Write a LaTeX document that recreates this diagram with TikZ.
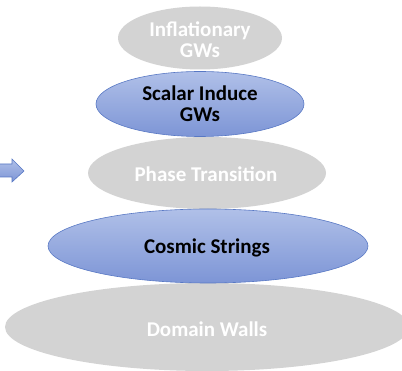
\documentclass[tikz,border=0pt]{standalone}
\usepackage{fontspec}
\setmainfont{Carlito}
\usetikzlibrary{shapes.geometric}
\definecolor{layergray}{HTML}{D3D3D3}
\definecolor{bluetop}{HTML}{B0C0E8}
\definecolor{bluebot}{HTML}{7D95D6}
\definecolor{blueedge}{HTML}{5878C4}
\tikzset{
  layer/.style={ellipse, inner sep=0pt},
  grayer/.style={layer, fill=layergray},
  bluer/.style={layer, top color=bluetop, bottom color=bluebot, draw=blueedge, line width=0.6pt},
  lbl/.style={font=\fontsize{21}{21}\selectfont\bfseries, align=center, inner sep=0pt},
}
\begin{document}
\begin{tikzpicture}[x=1pt,y=-1pt]
\useasboundingbox (0,0) rectangle (402,371);
% stacked layers, widest at the bottom
\node[grayer, minimum width=404, minimum height=88] (dw) at (207,327) {};
\node[grayer, minimum width=238, minimum height=72] (pt) at (207,173) {};
\node[grayer, minimum width=164, minimum height=63] (inf) at (200,38) {};
\node[bluer, minimum width=320, minimum height=74] (cs) at (208,246) {};
\node[bluer, minimum width=208, minimum height=65] (sig) at (200,104) {};
% labels
\node[lbl, text=white] at (200,40) {Inflationary\\GWs};
\node[lbl, text=black] at (200,104) {Scalar Induce\\GWs};
\node[lbl, text=white] at (206,174) {Phase Transition};
\node[lbl, text=black] at (207,248) {Cosmic Strings};
\node[lbl, text=white] at (207,329) {Domain Walls};
% pointer arrow at the left edge
\draw[blueedge, line width=0.6pt, top color=bluetop, bottom color=bluebot]
  (-2,164) -- (12,164) -- (12,159) -- (24,171) -- (12,182) -- (12,177) -- (-2,177) -- cycle;
\end{tikzpicture}
\end{document}
